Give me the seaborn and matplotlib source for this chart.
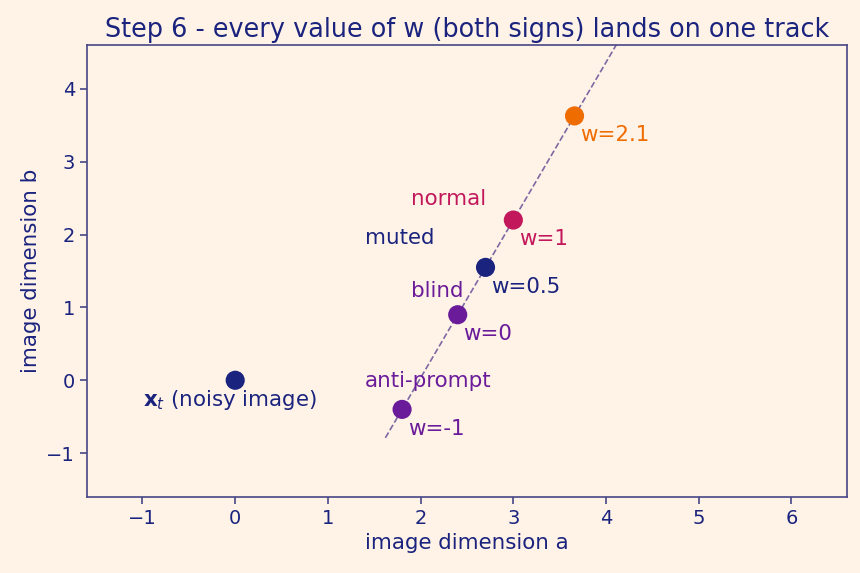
import matplotlib
matplotlib.use("Agg")
import matplotlib.pyplot as plt
import seaborn as sns
import pandas as pd

# data
names = ["x_t", "w=-1", "w=0", "w=0.5", "w=1", "w=2.1"]
xs = [0.0, 1.8, 2.4, 2.7, 3.0, 3.66]
ys = [0.0, -0.4, 0.9, 1.55, 2.2, 3.63]
colors = ["#1a237e", "#6a1b9a", "#6a1b9a", "#1a237e", "#c2185b", "#ef6c00"]
track_x = [1.62, 4.2]
track_y = [-0.79, 4.8]
side_labels = ["normal", "muted", "blind", "anti-prompt"]
side_x = [1.90, 1.40, 1.90, 1.40]
side_y = [2.49, 1.95, 1.23, -0.01]
side_colors = ["#c2185b", "#1a237e", "#6a1b9a", "#6a1b9a"]

NAVY = "#1a237e"
SPINE = "#474787"
BG = "#fff2e6"

sns.set_theme(style="white")
plt.rcParams["font.family"] = ["DejaVu Sans"]

fig, ax = plt.subplots(figsize=(8.6, 5.73), dpi=100)
fig.patch.set_facecolor(BG)
ax.set_facecolor(BG)

ax.plot(track_x, track_y, linestyle="--", color="#7b6aa3", linewidth=1.2, zorder=1)

df = pd.DataFrame({"x": xs, "y": ys, "name": names})
sns.scatterplot(data=df, x="x", y="y", hue="name", palette=dict(zip(names, colors)),
                s=190, edgecolor="none", legend=False, ax=ax, zorder=3)

FS = 15.4
for n, x, y, c in zip(names[1:], xs[1:], ys[1:], colors[1:]):
    ax.annotate(n, (x, y), xytext=(4, -14), textcoords="offset points",
                ha="left", va="center", color=c, fontsize=FS)

for t, x, y, c in zip(side_labels, side_x, side_y, side_colors):
    ax.text(x, y, t, ha="left", va="center", color=c, fontsize=FS)

ax.text(-0.99, -0.27, r"$\mathbf{x}_t$ (noisy image)", ha="left", va="center",
        color=NAVY, fontsize=FS)

ax.set_xlim(-1.6, 6.6)
ax.set_ylim(-1.6, 4.6)
ax.set_xticks([-1, 0, 1, 2, 3, 4, 5, 6])
ax.set_yticks([-1, 0, 1, 2, 3, 4])
ax.set_xlabel("image dimension a", color=NAVY, fontsize=FS)
ax.set_ylabel("image dimension b", color=NAVY, fontsize=FS)
ax.set_title("Step 6 - every value of w (both signs) lands on one track", color=NAVY, fontsize=18.4)
ax.tick_params(colors=SPINE, labelcolor=NAVY, labelsize=14, length=5, width=1.2, bottom=True, left=True)
for sp in ax.spines.values():
    sp.set_color(SPINE)
    sp.set_linewidth(1.2)

fig.subplots_adjust(left=0.101, right=0.985, top=0.921, bottom=0.133)
fig.savefig("out.png", dpi=100, facecolor=BG)
